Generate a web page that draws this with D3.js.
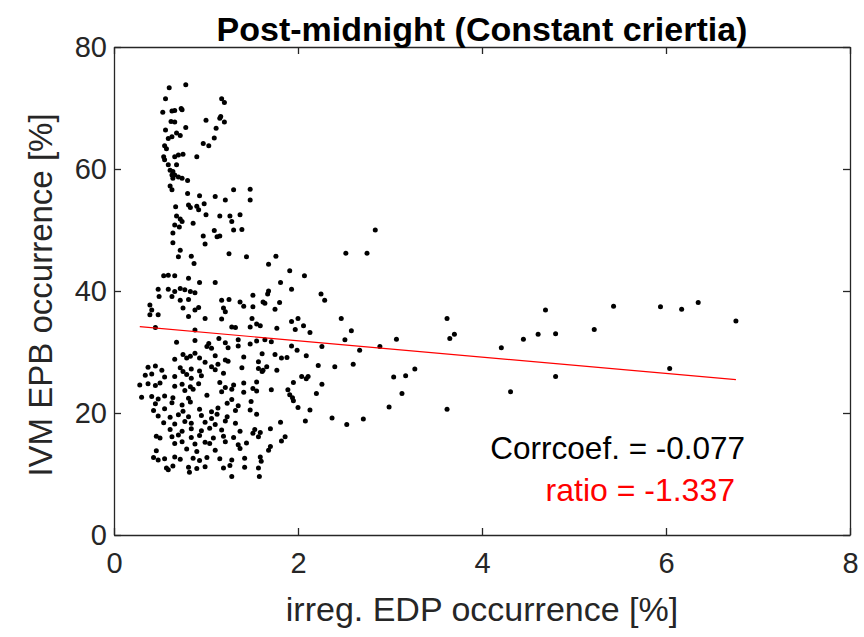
<!DOCTYPE html>
<html><head><meta charset="utf-8">
<script src="https://cdn.jsdelivr.net/npm/d3@7/dist/d3.min.js"></script>
<style>body{margin:0;background:#fff;} text{font-family:"Liberation Sans",Arial,Helvetica,sans-serif;}</style>
</head><body><svg id="chart" width="864" height="637"></svg>
<script>
const title = "Post-midnight (Constant criertia)";
const xLabel = "irreg. EDP occurrence [%]";
const yLabel = "IVM EPB occurrence [%]";
const xTicks = [0, 2, 4, 6, 8];
const yTicks = [0, 20, 40, 60, 80];
const corrcoef = -0.077;
const ratio = -1.337;      // slope of fitted line
const intercept = 34.52;   // intercept of fitted line

// [irreg. EDP occurrence %, IVM EPB occurrence %]
const points = [
[0.60,73.3],[0.78,73.8],[0.56,71.5],[1.17,71.5],[1.20,70.9],[0.53,69.3],[0.63,69.5],[0.66,69.6],[0.73,69.9],[0.74,69.7],
[1.16,68.6],[1.20,67.7],[1.15,68.3],[1.00,68.0],[0.62,67.8],[0.66,67.7],[0.78,66.8],[0.56,66.4],[1.11,66.7],[0.68,65.9],
[0.72,65.5],[0.63,65.3],[0.59,65.0],[1.09,65.1],[0.97,64.2],[1.03,63.8],[0.55,63.8],[0.57,63.3],[0.70,62.3],[0.75,62.4],
[0.66,62.0],[0.90,62.0],[0.54,62.0],[0.55,61.5],[0.59,60.7],[0.68,60.7],[0.61,59.8],[0.64,59.6],[0.66,59.0],[0.70,58.7],
[0.74,58.5],[0.80,58.1],[0.63,59.0],[0.64,58.5],[0.61,57.2],[0.63,56.6],[0.80,56.0],[0.93,55.6],[1.10,55.5],[1.21,54.9],
[1.30,56.6],[1.48,56.7],[1.48,54.9],
[0.67,53.8],[0.81,54.1],[0.83,53.7],[0.90,53.9],[0.92,53.3],[0.98,54.3],[1.00,52.5],[0.68,52.3],[0.72,51.8],[0.74,51.4],
[0.86,51.1],[0.66,50.8],[0.71,50.5],[1.15,52.3],[1.26,52.3],[1.28,51.4],[1.37,52.5],[1.09,49.9],[1.12,48.9],[1.15,49.0],
[1.30,50.0],[1.39,50.1],[0.64,49.5],[0.64,47.9],[0.97,49.0],[0.99,47.7],[0.72,46.7],[0.70,45.6],[0.84,45.7],[0.87,44.5],
[1.25,46.1],[1.44,45.6],[0.54,42.5],[0.59,42.6],[0.66,42.5],[0.81,42.1],[0.93,41.4],[1.10,41.4],[0.48,40.3],[0.59,40.3],
[0.66,39.9],[0.72,40.4],[0.77,40.2],[0.83,39.9],[0.88,39.7],[0.49,39.1],[0.63,39.1],[0.72,38.5],[0.81,38.6],[0.39,37.7],
[0.41,36.9],[0.39,36.1],[0.48,36.1],[0.75,37.2],[0.88,36.9],[0.92,37.3],[0.81,35.8],[0.99,35.5],[1.17,38.5],[1.25,38.6],
[1.19,37.2],[1.21,36.6],[1.17,35.4],[1.37,38.2],[1.41,37.5],[1.51,39.3],[1.51,37.4],[1.50,35.5],[1.48,34.1],[1.28,34.1],
[1.32,34.0],[0.45,34.0],[0.88,33.6],
[2.84,50.0],[2.52,46.2],[2.75,46.2],[1.76,45.7],[1.68,44.4],[1.91,43.3],[2.07,42.5],[1.81,41.4],[1.68,40.0],[1.67,39.5],
[1.93,40.3],[1.62,38.2],[1.64,38.0],[1.80,38.1],[1.75,37.0],[2.25,39.5],[2.29,38.5],[1.55,34.6],[1.59,34.3],[1.93,35.0],
[2.00,35.5],[1.77,33.9],[1.97,33.7],[2.06,34.3],[2.13,33.2],[2.47,35.5],[2.58,33.5],[2.51,32.0],[1.64,32.0],[1.71,31.7],
[1.93,31.0],[2.26,30.9],[2.89,30.9],
[1.99,30.3],[2.67,30.3],[1.75,29.6],[1.82,29.0],[1.88,29.1],[2.09,29.4],[1.57,28.4],[1.66,27.6],[1.62,27.0],[1.77,27.0],
[2.22,27.8],[2.40,27.6],[2.60,28.0],[2.04,26.0],[2.11,26.0],[2.09,25.6],[1.55,25.1],[1.51,24.0],[1.71,23.8],[1.95,25.0],
[2.26,24.7],[2.20,23.2],[1.89,23.8],[1.91,23.0],[1.94,22.5],[1.95,22.0],[1.49,21.9],[1.48,20.5],[1.55,19.8],[2.00,20.9],
[2.13,20.5],[2.37,19.2],[2.53,18.1],[2.71,19.0],[2.99,21.0],[2.08,18.7],[1.81,18.5],[1.70,17.4],[1.51,16.7],[1.59,16.8],
[1.86,16.1],[1.82,15.4],[1.70,14.5],[1.68,13.9],[1.59,12.8],[1.60,12.1],[1.57,11.0],[1.58,9.6],
[3.62,35.5],[3.65,32.2],[3.70,32.9],[3.07,32.1],[3.27,27.2],[3.17,26.1],[3.04,25.9],[3.13,23.2],[3.62,20.6],
[4.21,30.7],[4.31,23.5],[4.45,32.1],[4.61,32.9],[4.69,36.9],[4.80,33.0],[4.80,26.0],[5.22,33.7],[5.43,37.5],[5.94,37.4],
[6.04,27.3],[6.17,37.0],[6.35,38.1],[6.76,35.1],
[0.68,31.6],[0.88,31.9],[1.03,31.4],[1.14,32.2],[1.21,31.5],[1.35,32.0],[1.48,31.3],[1.55,31.8],
[1.01,30.9],[1.06,30.6],[1.24,30.7],[1.35,31.0],
[0.75,29.6],[0.83,29.3],[0.88,29.8],[0.93,29.0],[1.10,29.4],[1.21,28.7],[1.41,29.2],[1.61,29.7],
[0.66,28.8],[0.79,29.0],[0.99,28.3],[1.13,28.0],[1.24,28.5],
[0.37,27.5],[0.45,27.7],[0.52,27.0],[0.72,27.4],[0.75,26.8],[0.84,27.2],[0.93,26.9],[1.06,27.6],[1.10,27.1],[1.39,27.4],[1.57,27.3],
[0.34,26.2],[0.41,26.4],[0.55,25.9],[0.66,26.0],[0.79,26.3],[0.84,25.7],[0.95,26.1],[1.19,26.5],[1.61,26.8],
[0.28,24.6],[0.37,24.8],[0.45,24.5],[0.50,24.9],[0.66,24.4],[0.74,24.7],[0.83,24.3],[0.92,24.8],[1.15,25.0],[1.21,24.2],[1.30,24.6],[1.41,24.9],
[0.77,23.7],[0.86,23.9],[1.17,23.5],[1.28,23.9],[1.41,23.4],[1.55,23.6],
[0.30,22.6],[0.41,22.7],[0.48,22.3],[0.55,22.8],[0.64,22.5],[0.81,22.4],[1.01,22.9],[1.28,22.2],
[0.45,21.5],[0.63,21.7],[0.74,21.3],[0.83,21.8],[1.23,21.6],[1.35,21.2],
[0.43,20.4],[0.55,20.7],[0.75,20.3],[0.93,20.6],[1.06,20.2],[1.13,20.8],[1.32,20.4],
[0.48,19.5],[0.61,19.3],[0.70,19.7],[0.81,19.4],[0.95,19.6],[1.06,19.1],[1.12,19.8],[1.23,19.4],
[0.54,18.4],[0.66,18.2],[0.77,18.6],[0.84,18.3],[0.99,18.5],[1.10,18.1],[1.21,18.7],[1.32,18.3],
[0.61,17.3],[0.74,17.0],[0.84,17.4],[0.95,17.1],[1.04,17.5],[1.17,17.2],[1.37,17.0],[1.53,17.3],
[0.46,16.2],[0.50,15.9],[0.63,16.1],[0.70,16.4],[0.84,16.0],[0.93,16.3],[1.08,15.9],[1.19,16.2],[1.30,16.0],[1.57,16.1],
[0.66,15.0],[0.74,15.3],[0.88,14.9],[0.99,15.2],[1.04,15.0],[1.21,15.3],[1.35,14.8],[1.44,15.1],
[0.46,13.8],[0.79,14.1],[0.90,13.7],[1.10,13.9],[1.37,14.2],
[0.43,12.7],[0.48,12.3],[0.55,12.5],[0.66,12.8],[0.72,12.4],[0.86,12.6],[0.93,12.2],[1.01,12.7],[1.15,12.5],[1.28,12.3],[1.42,12.6],
[0.57,11.0],[0.64,11.3],[0.81,11.1],[0.90,10.9],[0.99,11.2],[1.19,11.0],[1.26,11.4],[1.42,11.1],
[1.28,9.6],[0.82,10.3],[0.59,10.7]
];

const W = 864, H = 637;
const m = {left:114, right:14, top:47, bottom:102};
const axisColor = "#262626";
const svg = d3.select("#chart");
svg.append("rect").attr("width",W).attr("height",H).attr("fill","#fff");

const x = d3.scaleLinear().domain([0,8]).range([m.left, W - m.right]);
const y = d3.scaleLinear().domain([0,80]).range([H - m.bottom, m.top]);

const g = svg.append("g");

// points
g.append("g").selectAll("circle").data(points).join("circle")
  .attr("cx", d => x(d[0])).attr("cy", d => y(d[1])).attr("r", 2.5).attr("fill", "#000");

// regression line
const xs = d3.extent(points, d => d[0]);
g.append("line")
  .attr("x1", x(xs[0])).attr("y1", y(intercept + ratio*xs[0]))
  .attr("x2", x(xs[1])).attr("y2", y(intercept + ratio*xs[1]))
  .attr("stroke", "#ff0000").attr("stroke-width", 1.2);

// axes (MATLAB style: inner ticks, box)
const tl = 7;
const styleAxis = sel => {
  sel.select(".domain").attr("stroke", axisColor).attr("stroke-width", 1.3);
  sel.selectAll(".tick line").attr("stroke", axisColor).attr("stroke-width", 1.3);
  sel.selectAll(".tick text").attr("fill", axisColor).style("font-size","29px");
};
g.append("g").attr("transform",`translate(0,${y(0)})`)
  .call(d3.axisBottom(x).tickValues(xTicks).tickFormat(d3.format("d")).tickSizeInner(-tl).tickSizeOuter(0).tickPadding(17))
  .call(styleAxis);
g.append("g").attr("transform",`translate(0,${y(80)})`)
  .call(d3.axisTop(x).tickValues(xTicks).tickFormat("").tickSizeInner(-tl).tickSizeOuter(0))
  .call(styleAxis);
g.append("g").attr("transform",`translate(${x(0)},0)`)
  .call(d3.axisLeft(y).tickValues(yTicks).tickFormat(d3.format("d")).tickSizeInner(-tl).tickSizeOuter(0).tickPadding(7))
  .call(styleAxis);
g.append("g").attr("transform",`translate(${x(8)},0)`)
  .call(d3.axisRight(y).tickValues(yTicks).tickFormat("").tickSizeInner(-tl).tickSizeOuter(0))
  .call(styleAxis);

// title and labels
svg.append("text").attr("x", 482).attr("y", 41).attr("text-anchor","middle")
  .attr("fill","#000").style("font-size","34px").style("font-weight","bold").text(title);
svg.append("text").attr("x", 482).attr("y", 621).attr("text-anchor","middle")
  .attr("fill",axisColor).style("font-size","34px").text(xLabel);
svg.append("text").attr("transform",`translate(52,${(y(0)+y(80))/2 + 4}) rotate(-90)`).attr("text-anchor","middle")
  .attr("fill",axisColor).style("font-size","33px").text(yLabel);

// annotations
svg.append("text").attr("x", x(6.86)).attr("y", y(12.5)).attr("text-anchor","end")
  .attr("fill","#000").style("font-size","31.5px").text("Corrcoef. = " + corrcoef.toFixed(3));
svg.append("text").attr("x", x(6.75)).attr("y", y(5.6)).attr("text-anchor","end")
  .attr("fill","#ff0000").style("font-size","32px").text("ratio = " + ratio.toFixed(3));
</script></body></html>
